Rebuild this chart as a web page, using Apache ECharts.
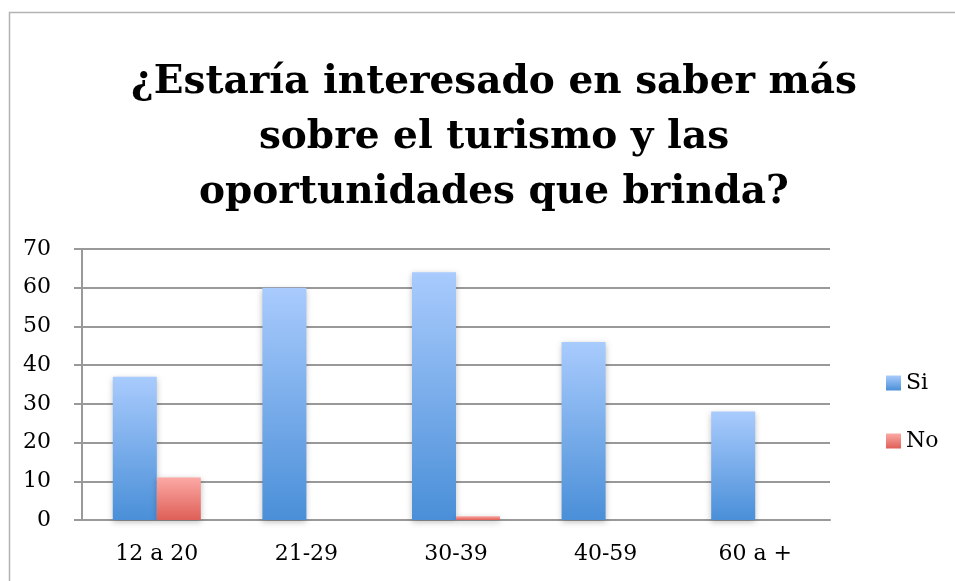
<!DOCTYPE html>
<html>
<head>
<meta charset="utf-8">
<script src="https://cdn.jsdelivr.net/npm/echarts@6/dist/echarts.min.js"></script>
<style>
  html, body { margin: 0; padding: 0; background: #fff; }
  #chart { width: 955px; height: 581px; }
</style>
</head>
<body>
<div id="chart"></div>
<script>
// datos
var categorias = ['12 a 20', '21-29', '30-39', '40-59', '60 a +'];
var valoresSi = [37, 60, 64, 46, 28];
var valoresNo = [11, 0, 1, 0, 0];
var titulo = '¿Estaría interesado en saber más\nsobre el turismo y las\noportunidades que brinda?';

var fuente = '"DejaVu Serif", "Liberation Serif", serif';

function degradado(arriba, abajo) {
    return new echarts.graphic.LinearGradient(0, 0, 0, 1, [
        { offset: 0, color: arriba },
        { offset: 1, color: abajo }
    ]);
}

var myChart = echarts.init(document.getElementById('chart'));
var option = {
    animation: false,
    backgroundColor: '#fff',
    graphic: [{
        type: 'rect',
        shape: { x: 9.5, y: 12.5, width: 1000, height: 1000 },
        style: { fill: 'none', stroke: '#b3b3b3', lineWidth: 1.5 },
        silent: true
    }],
    title: {
        text: titulo,
        left: 489,
        top: 50,
        textAlign: 'center',
        textStyle: {
            fontFamily: fuente,
            fontWeight: 'bold',
            fontSize: 39,
            lineHeight: 55,
            color: '#000'
        }
    },
    legend: {
        orient: 'vertical',
        left: 881,
        top: 367,
        itemWidth: 15,
        itemHeight: 15,
        itemGap: 36,
        icon: 'rect',
        textStyle: { fontFamily: fuente, fontSize: 22, color: '#000' },
        data: ['Si', 'No']
    },
    grid: { left: 82, right: 125, top: 249, bottom: 61 },
    xAxis: {
        type: 'category',
        data: categorias,
        axisLine: { lineStyle: { color: '#999', width: 2 } },
        axisTick: { show: false },
        axisLabel: { fontFamily: fuente, fontSize: 22, color: '#000', margin: 23 }
    },
    yAxis: {
        type: 'value',
        min: 0,
        max: 70,
        interval: 10,
        axisLine: { show: true, lineStyle: { color: '#999', width: 2 } },
        axisTick: { show: true, length: 8, lineStyle: { color: '#999', width: 2 } },
        splitLine: { lineStyle: { color: '#999', width: 2 } },
        axisLabel: { fontFamily: fuente, fontSize: 22, color: '#000', margin: 31 }
    },
    series: [{
        name: 'Si',
        type: 'bar',
        data: valoresSi,
        barWidth: 44,
        barGap: '0%',
        itemStyle: {
            color: degradado('#a9cbfd', '#4a8fd8'),
            shadowColor: 'rgba(0,0,0,0.25)',
            shadowBlur: 6,
            shadowOffsetY: 2
        }
    }, {
        name: 'No',
        type: 'bar',
        data: valoresNo,
        barWidth: 44,
        barGap: '0%',
        itemStyle: {
            color: degradado('#fca9a5', '#de5f57'),
            shadowColor: 'rgba(0,0,0,0.25)',
            shadowBlur: 6,
            shadowOffsetY: 2
        }
    }]
};
myChart.setOption(option);
</script>
</body>
</html>
